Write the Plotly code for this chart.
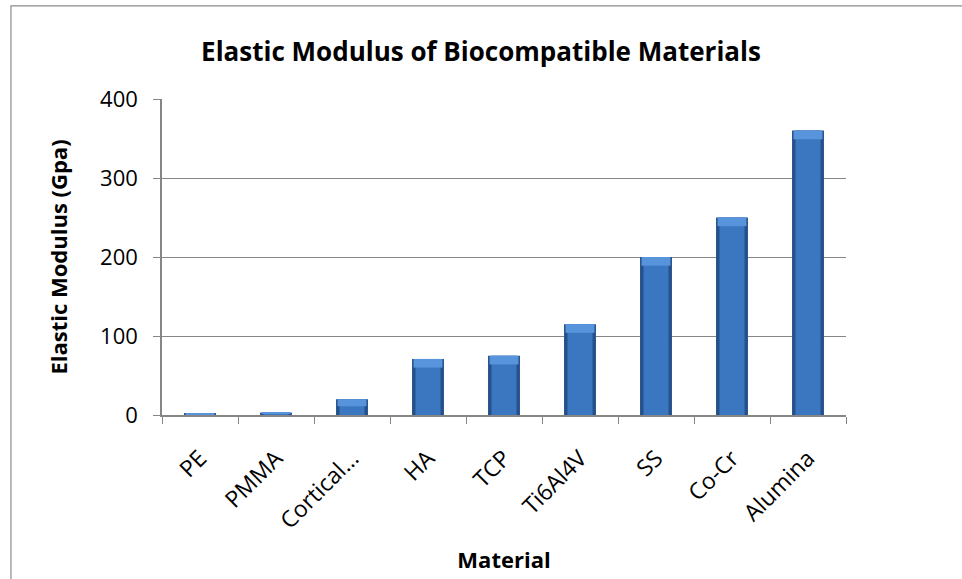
import plotly.graph_objects as go

# Elastic modulus (GPa) of common biomaterials
materials = ["PE", "PMMA", "Cortical…", "HA", "TCP", "Ti6Al4V", "SS", "Co-Cr", "Alumina"]
modulus = [2, 3, 20, 71, 75, 115, 200, 250, 360]

y_ticks = [0, 100, 200, 300, 400]

FONT = "Open Sans"
GRID = "#868686"

# height of the bright top bevel on each bar (data units, capped for short bars)
cap = [min(11, v * 0.45) for v in modulus]
cap_base = [v - c for v, c in zip(modulus, cap)]

fig = go.Figure()

# Bevelled bar look: dark outer body, lighter inner face, bright top cap
fig.add_trace(go.Bar(
    x=materials, y=modulus, width=0.42,
    marker=dict(color="#26508a", line=dict(width=0)),
    hoverinfo="skip", showlegend=False,
))
fig.add_trace(go.Bar(
    x=materials, y=modulus, width=0.33,
    marker=dict(color="#3b77c1", line=dict(width=0)),
    showlegend=False,
))
fig.add_trace(go.Bar(
    x=materials, y=cap, base=cap_base, width=0.38,
    marker=dict(color="#5894dc", line=dict(width=0)),
    hoverinfo="skip", showlegend=False,
))

fig.update_layout(
    width=962, height=579,
    margin=dict(l=162, r=116, t=98.5, b=163.5),
    paper_bgcolor="white", plot_bgcolor="white",
    barmode="overlay",
    font=dict(family=FONT, color="#000000"),
    title=dict(
        text="<b>Elastic Modulus of Biocompatible Materials</b>",
        x=0.5, xref="container", xanchor="center",
        y=1 - 52 / 579, yref="container", yanchor="middle",
        font=dict(family=FONT, size=26, color="#000000"),
    ),
    xaxis=dict(
        title=dict(text="<b>Material</b>", font=dict(size=22), standoff=18),
        automargin=False,
        showline=True, linecolor=GRID, linewidth=1.5,
        ticks="outside", ticklen=7, tickcolor=GRID,
        tickson="boundaries",
        tickangle=-45, tickfont=dict(size=23),
        ticklabelstandoff=19,
        showgrid=False,
    ),
    yaxis=dict(
        title=dict(text="<b>Elastic Modulus (Gpa)</b>", font=dict(size=22), standoff=26),
        automargin=False,
        range=[0, 400], tickvals=y_ticks,
        showline=True, linecolor=GRID, linewidth=1.5,
        ticks="outside", ticklen=7, tickcolor=GRID,
        ticklabelstandoff=11,
        showgrid=True, gridcolor=GRID, gridwidth=1.2,
        tickfont=dict(size=22), zeroline=False,
    ),
    shapes=[dict(
        type="rect", xref="paper", yref="paper",
        x0=-0.2208, x1=1.3, y0=-0.7, y1=1.295,
        line=dict(color="#8c8c8c", width=1.2), fillcolor="rgba(0,0,0,0)",
        layer="below",
    )],
)

fig.write_html("out.html")
